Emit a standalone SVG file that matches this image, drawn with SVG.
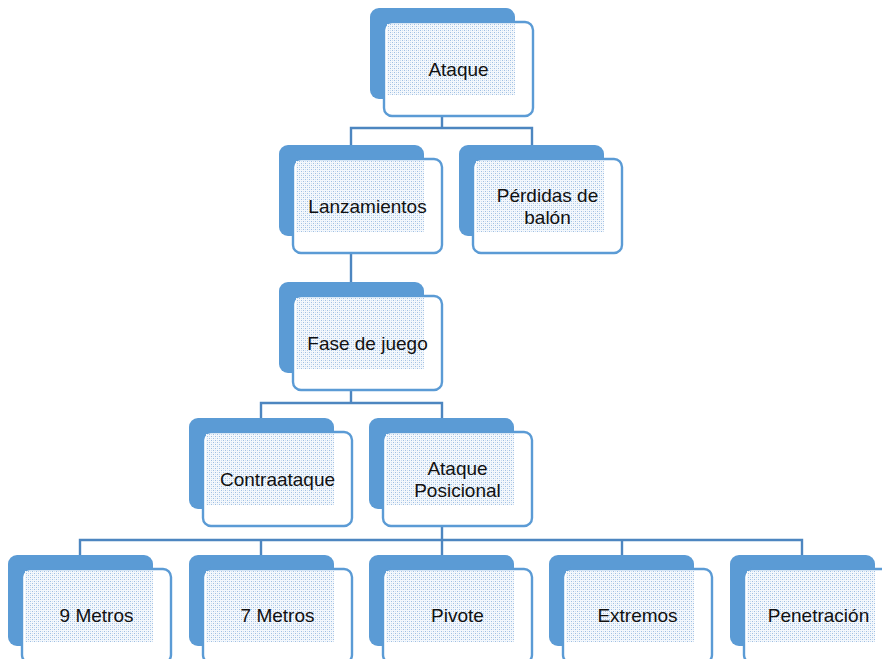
<svg xmlns="http://www.w3.org/2000/svg" width="882" height="659" viewBox="0 0 882 659">
<defs>
<pattern id="dots" width="4" height="4" patternUnits="userSpaceOnUse">
<rect width="4" height="4" fill="#f4f8fc"/>
<rect x="0" y="0" width="1" height="1" fill="#9fbfe3"/>
<rect x="2" y="2" width="1" height="1" fill="#9fbfe3"/>
<rect x="2" y="0" width="1" height="1" fill="#cfdff1"/>
<rect x="0" y="2" width="1" height="1" fill="#cfdff1"/>
</pattern>
<g id="box">
<rect class="back" x="0" y="0" width="145" height="91" rx="9"/>
<rect class="front" x="14" y="14" width="149" height="94" rx="8"/>
<rect class="tex" x="17" y="16" width="128" height="71"/>
</g>
</defs>
<style>
.back{fill:#5b9bd5}
.front{fill:#ffffff;stroke:#5b9bd5;stroke-width:2.4}
.tex{fill:url(#dots)}
.conn{fill:none;stroke:#4d86c0;stroke-width:2.4}
text{font-family:"Liberation Sans",Arial,sans-serif;font-size:19px;fill:#111;text-anchor:middle}
</style>
<rect width="882" height="659" fill="#ffffff"/>
<g id="connectors" class="conn">
<path d="M442,99 V128 M351,145 V128 H532 V145"/>
<path d="M351,236 V282"/>
<path d="M351,373 V403 M261,418 V403 H442 V418"/>
<path d="M442,509 V540 M80,555 V540 H802 V555 M261,555 V540 M442,555 V540 M622,555 V540"/>
</g>
<g id="n-ataque"><use href="#box" x="370" y="8"/><text x="458.5" y="76">Ataque</text></g>
<g id="n-lanzamientos"><use href="#box" x="279" y="145"/><text x="367.5" y="213">Lanzamientos</text></g>
<g id="n-perdidas"><use href="#box" x="459" y="145"/><text x="547.5" y="202">Pérdidas de</text><text x="547.5" y="224">balón</text></g>
<g id="n-fase"><use href="#box" x="279" y="282"/><text x="367.5" y="350">Fase de juego</text></g>
<g id="n-contraataque"><use href="#box" x="189" y="418"/><text x="277.5" y="486">Contraataque</text></g>
<g id="n-posicional"><use href="#box" x="369" y="418"/><text x="457.5" y="475">Ataque</text><text x="457.5" y="497">Posicional</text></g>
<g id="n-9metros"><use href="#box" x="8" y="555"/><text x="96.5" y="622">9 Metros</text></g>
<g id="n-7metros"><use href="#box" x="189" y="555"/><text x="277.5" y="622">7 Metros</text></g>
<g id="n-pivote"><use href="#box" x="369" y="555"/><text x="457.5" y="622">Pivote</text></g>
<g id="n-extremos"><use href="#box" x="549" y="555"/><text x="637.5" y="622">Extremos</text></g>
<g id="n-penetracion"><use href="#box" x="730" y="555"/><text x="818.5" y="622">Penetración</text></g>
</svg>
